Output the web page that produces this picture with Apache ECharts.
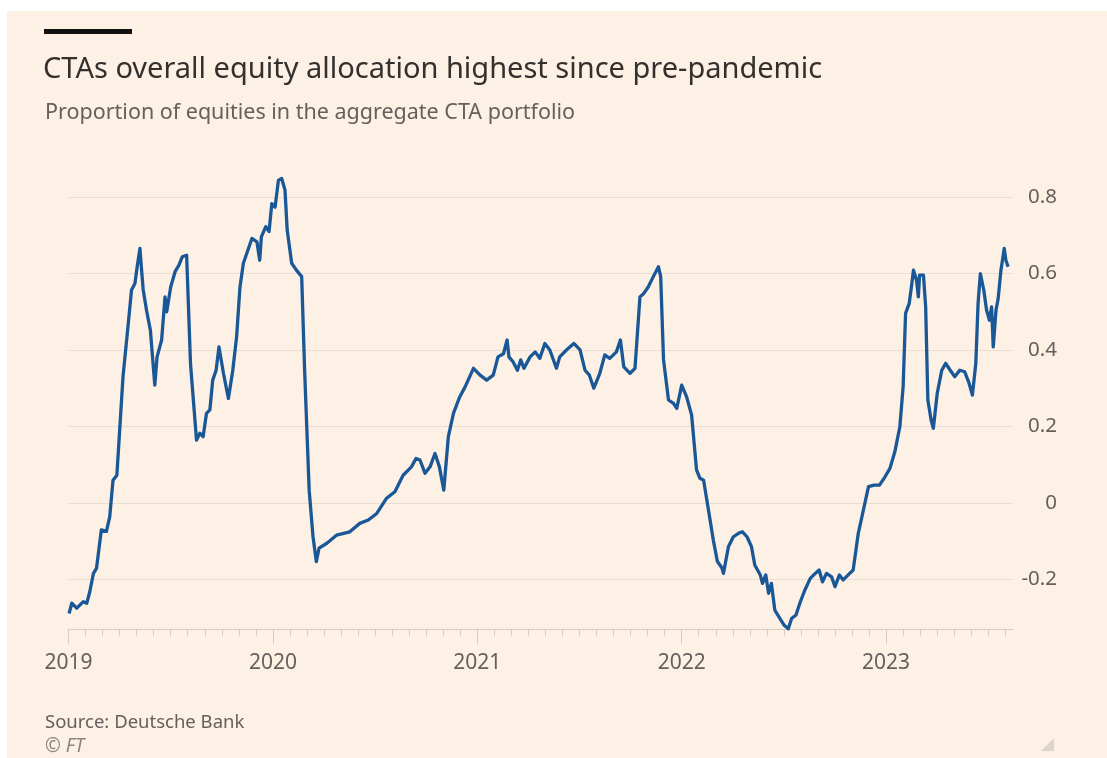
<!DOCTYPE html>
<html>
<head>
<meta charset="utf-8">
<script src="https://cdn.jsdelivr.net/npm/echarts@6/dist/echarts.min.js"></script>
<style>
  html, body { margin: 0; padding: 0; background: #ffffff; }
  #paper { position: absolute; left: 7px; top: 11px; width: 1100px; height: 747px; background: #fdf0e5; }
  #chart { position: absolute; left: 0; top: 0; width: 1107px; height: 758px; }
</style>
</head>
<body>
<div id="paper"></div>
<div id="chart"></div>
<script>
// Aggregate CTA portfolio: share held in equities (weekly-ish observations)
const dates = [
  '2019-01-02','2019-01-07','2019-01-16','2019-01-28','2019-02-03','2019-02-08','2019-02-14','2019-02-19','2019-02-27','2019-03-08',
  '2019-03-14','2019-03-20','2019-03-27','2019-04-07','2019-04-16','2019-04-22','2019-04-28','2019-05-02','2019-05-07','2019-05-10',
  '2019-05-13','2019-05-19','2019-05-26','2019-06-03','2019-06-07','2019-06-15','2019-06-21','2019-06-24','2019-07-01','2019-07-09',
  '2019-07-16','2019-07-22','2019-07-30','2019-08-06','2019-08-17','2019-08-23','2019-08-29','2019-09-04','2019-09-10','2019-09-15',
  '2019-09-21','2019-09-26','2019-10-04','2019-10-13','2019-10-21','2019-10-28','2019-11-03','2019-11-09','2019-11-16','2019-11-24',
  '2019-12-03','2019-12-08','2019-12-11','2019-12-19','2019-12-25','2019-12-30','2020-01-05','2020-01-11','2020-01-17','2020-01-23',
  '2020-01-27','2020-02-04','2020-02-12','2020-02-21','2020-02-26','2020-03-05','2020-03-12','2020-03-18','2020-03-23','2020-04-06',
  '2020-04-23','2020-05-17','2020-06-04','2020-06-19','2020-07-04','2020-07-22','2020-08-06','2020-08-21','2020-09-05','2020-09-13',
  '2020-09-20','2020-09-29','2020-10-08','2020-10-17','2020-10-25','2020-11-02','2020-11-10','2020-11-19','2020-11-30','2020-12-10',
  '2020-12-25','2021-01-06','2021-01-18','2021-01-30','2021-02-07','2021-02-16','2021-02-22','2021-02-25','2021-03-04','2021-03-12',
  '2021-03-18','2021-03-24','2021-04-04','2021-04-13','2021-04-21','2021-04-30','2021-05-09','2021-05-21','2021-05-27','2021-06-08',
  '2021-06-21','2021-07-02','2021-07-11','2021-07-19','2021-07-27','2021-08-07','2021-08-16','2021-08-25','2021-09-06','2021-09-13',
  '2021-09-19','2021-09-30','2021-10-09','2021-10-18','2021-10-25','2021-11-02','2021-11-11','2021-11-20','2021-11-24','2021-11-29',
  '2021-12-08','2021-12-17','2021-12-23','2022-01-01','2022-01-10','2022-01-19','2022-01-28','2022-02-03','2022-02-09','2022-02-17',
  '2022-02-25','2022-03-04','2022-03-12','2022-03-15','2022-03-24','2022-04-02','2022-04-11','2022-04-18','2022-04-26','2022-05-04',
  '2022-05-10','2022-05-20','2022-05-24','2022-05-30','2022-06-04','2022-06-09','2022-06-15','2022-06-24','2022-07-01','2022-07-09',
  '2022-07-15','2022-07-23','2022-07-30','2022-08-08','2022-08-18','2022-08-27','2022-09-03','2022-09-09','2022-09-16','2022-09-25',
  '2022-10-01','2022-10-09','2022-10-16','2022-10-25','2022-11-03','2022-11-12','2022-11-21','2022-11-30','2022-12-10','2022-12-20',
  '2022-12-30','2023-01-08','2023-01-17','2023-01-26','2023-02-01','2023-02-05','2023-02-11','2023-02-15','2023-02-18','2023-02-23',
  '2023-02-26','2023-02-28','2023-03-07','2023-03-11','2023-03-15','2023-03-21','2023-03-25','2023-04-01','2023-04-09','2023-04-16',
  '2023-04-24','2023-05-02','2023-05-11','2023-05-20','2023-05-28','2023-06-03','2023-06-09','2023-06-13','2023-06-17','2023-06-23',
  '2023-06-28','2023-07-03','2023-07-07','2023-07-10','2023-07-15','2023-07-19','2023-07-24','2023-07-30','2023-08-02','2023-08-06'
];

const equityShare = [
  -0.290,-0.263,-0.276,-0.259,-0.263,-0.233,-0.185,-0.172,-0.071,-0.075,
  -0.037, 0.059, 0.072, 0.330, 0.465, 0.557, 0.574, 0.618, 0.666, 0.609,
   0.557, 0.504, 0.452, 0.308, 0.382, 0.426, 0.539, 0.500, 0.565, 0.605,
   0.622, 0.644, 0.648, 0.365, 0.164, 0.182, 0.173, 0.234, 0.243, 0.321,
   0.347, 0.408, 0.339, 0.273, 0.347, 0.435, 0.565, 0.627, 0.657, 0.692,
   0.683, 0.635, 0.696, 0.723, 0.710, 0.783, 0.774, 0.844, 0.849, 0.819,
   0.714, 0.627, 0.609, 0.592, 0.347, 0.033,-0.089,-0.154,-0.119,-0.106,
  -0.085,-0.076,-0.054,-0.045,-0.028, 0.012, 0.029, 0.072, 0.094, 0.116,
   0.112, 0.077, 0.094, 0.129, 0.094, 0.033, 0.173, 0.234, 0.277, 0.304,
   0.352, 0.334, 0.321, 0.334, 0.382, 0.390, 0.426, 0.382, 0.369, 0.347,
   0.374, 0.352, 0.382, 0.395, 0.378, 0.417, 0.400, 0.352, 0.382, 0.400,
   0.417, 0.400, 0.347, 0.334, 0.300, 0.339, 0.387, 0.378, 0.395, 0.426,
   0.356, 0.339, 0.352, 0.539, 0.548, 0.565, 0.592, 0.618, 0.592, 0.374,
   0.269, 0.260, 0.247, 0.308, 0.277, 0.230, 0.086, 0.064, 0.059,-0.019,
  -0.098,-0.154,-0.170,-0.185,-0.115,-0.089,-0.080,-0.076,-0.089,-0.115,
  -0.163,-0.189,-0.211,-0.189,-0.237,-0.211,-0.281,-0.303,-0.320,-0.330,
  -0.303,-0.294,-0.263,-0.229,-0.198,-0.185,-0.176,-0.207,-0.185,-0.194,
  -0.220,-0.189,-0.202,-0.189,-0.176,-0.080,-0.019, 0.042, 0.046, 0.046,
   0.068, 0.090, 0.134, 0.199, 0.304, 0.496, 0.522, 0.570, 0.609, 0.583,
   0.539, 0.596, 0.596, 0.513, 0.269, 0.216, 0.195, 0.286, 0.347, 0.365,
   0.347, 0.330, 0.347, 0.343, 0.313, 0.282, 0.365, 0.522, 0.600, 0.557,
   0.504, 0.478, 0.513, 0.408, 0.504, 0.535, 0.609, 0.666, 0.635, 0.618
];

const yearLabels = ['2019', '2020', '2021', '2022', '2023'];
const valueTicks = [-0.2, 0, 0.2, 0.4, 0.6, 0.8];

// x positions are measured in months since January 2019
const START_YEAR = 2019;
function monthsSinceStart(s) {
  const [y, m, d] = s.split('-').map(Number);
  const daysInMonth = new Date(y, m, 0).getDate();
  return (y - START_YEAR) * 12 + (m - 1) + (d - 1) / daysInMonth;
}
const yearTicks = yearLabels.map((_, i) => i * 12);
const X_MAX = 55.45; // axis runs to mid-August 2023
const monthTicks = [];
for (let i = 0; i <= Math.floor(X_MAX); i++) monthTicks.push(i);

const seriesData = dates.map((d, i) => [monthsSinceStart(d), equityShare[i]]);

const inkDark = '#33302e';
const inkMid = '#66605c';
const gridColor = '#eaddd1';
const tickColor = '#d8cbbf';
const font = 'Noto Sans';

const chart = echarts.init(document.getElementById('chart'), null, { renderer: 'canvas' });
chart.setOption({
  backgroundColor: 'transparent',
  animation: false,
  title: [
    {
      text: 'CTAs overall equity allocation highest since pre-pandemic',
      left: 38, top: 50,
      textStyle: { fontFamily: font, fontSize: 29, fontWeight: 'normal', color: inkDark }
    },
    {
      text: 'Proportion of equities in the aggregate CTA portfolio',
      left: 40, top: 97,
      textStyle: { fontFamily: font, fontSize: 21.5, fontWeight: 'normal', color: inkMid }
    },
    {
      text: 'Source: Deutsche Bank',
      left: 40, top: 708,
      textStyle: { fontFamily: font, fontSize: 18.5, fontWeight: 'normal', color: inkMid }
    },
    {
      text: '© FT',
      left: 40, top: 732,
      textStyle: { fontFamily: font, fontSize: 19, fontStyle: 'italic', fontWeight: 'normal', color: '#8c857f' }
    }
  ],
  graphic: [
    { type: 'rect', left: 44, top: 29, shape: { width: 88, height: 5 }, style: { fill: '#111111' } },
    { type: 'polygon', shape: { points: [[1054, 738], [1054, 751], [1041, 751]] }, style: { fill: '#ddd4cb' } }
  ],
  grid: { left: 68.5, right: 94, top: 159, bottom: 129.2, containLabel: false },
  xAxis: [
    {
      type: 'value', position: 'bottom', min: 0, max: X_MAX,
      axisLine: { show: true, onZero: false, lineStyle: { color: tickColor, width: 1 } },
      axisTick: { show: true, customValues: yearTicks, length: 15, lineStyle: { color: tickColor } },
      axisLabel: {
        customValues: yearTicks, margin: 24,
        fontFamily: font, fontSize: 21, color: inkMid,
        formatter: v => yearLabels[Math.round(v / 12)]
      },
      splitLine: { show: false }
    },
    {
      type: 'value', position: 'bottom', min: 0, max: X_MAX,
      axisLine: { show: false, onZero: false },
      axisTick: { show: true, customValues: monthTicks, length: 7, lineStyle: { color: tickColor } },
      axisLabel: { show: false },
      splitLine: { show: false }
    }
  ],
  yAxis: {
    type: 'value', position: 'right', min: -0.33, max: 0.9,
    axisLine: { show: false },
    axisTick: { show: false, customValues: valueTicks },
    axisLabel: {
      customValues: valueTicks, align: 'right', margin: 44,
      fontFamily: font, fontSize: 20.5, color: inkMid,
      formatter: v => (Math.abs(v) < 1e-9 ? '0' : v.toFixed(1))
    },
    splitLine: { show: true, lineStyle: { color: gridColor, width: 1 } }
  },
  series: [{
    type: 'line',
    xAxisIndex: 0,
    data: seriesData,
    showSymbol: false,
    clip: false,
    lineStyle: { color: '#1a5797', width: 3.3, join: 'round' },
    itemStyle: { color: '#1a5797' }
  }]
});
</script>
</body>
</html>
